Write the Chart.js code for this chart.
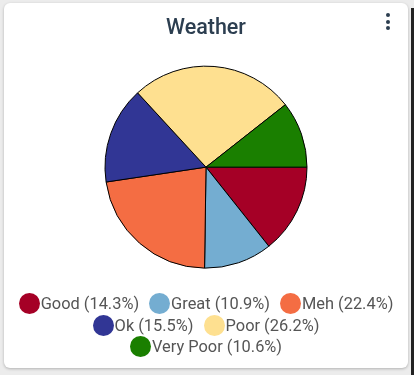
<!DOCTYPE html>
<html>
<head>
<meta charset="utf-8">
<script src="https://cdn.jsdelivr.net/npm/chart.js@4"></script>
<style>
  html, body { margin: 0; padding: 0; }
  body { width: 414px; height: 375px; background: #ececec; position: relative; overflow: hidden; font-family: Roboto, sans-serif; }
  .edge { position: absolute; left: 411px; top: 8px; width: 3px; height: 367px; background: #222; }
  .card { position: absolute; left: 4px; top: 3px; width: 404px; height: 365px; background: #fff; border-radius: 6px; box-shadow: 0 1px 3px rgba(0,0,0,0.25); }
  .menu { position: absolute; left: 382px; top: 10px; width: 4px; }
  .menu span { display: block; width: 4px; height: 4px; border-radius: 2px; background: #2c3e50; margin-bottom: 2.5px; }
  canvas { position: absolute; left: 0; top: 0; }
  #legend { position: absolute; left: 10px; top: 290px; width: 384px; display: flex; flex-wrap: wrap; justify-content: center; column-gap: 10px; }
  #legend .item { display: flex; align-items: center; height: 21.6px; font-size: 16.4px; color: #555; white-space: nowrap; }
  #legend .dot { width: 21px; height: 21px; border-radius: 50%; margin-right: 1px; }
</style>
</head>
<body>
<div class="edge"></div>
<div class="card">
  <canvas id="weatherChart" width="404" height="365"></canvas>
  <div class="menu"><span></span><span></span><span></span></div>
  <div id="legend"></div>
</div>
<script>
const categories = ['Good', 'Great', 'Meh', 'Ok', 'Poor', 'Very Poor'];
const shares = [14.3, 10.9, 22.4, 15.5, 26.2, 10.6];
const sliceColors = ['#a50026', '#74add1', '#f46d43', '#313695', '#fee090', '#1a7f00'];

const ctx = document.getElementById('weatherChart').getContext('2d');
const chart = new Chart(ctx, {
    type: 'pie',
    data: {
        labels: categories,
        datasets: [{
            data: shares,
            backgroundColor: sliceColors,
            borderColor: '#000',
            borderWidth: 1
        }]
    },
    options: {
        responsive: false,
        animation: false,
        rotation: 90,
        radius: 101,
        layout: { padding: { bottom: 75 } },
        plugins: {
            title: {
                display: true,
                text: 'Weather',
                color: '#2c3e50',
                font: { family: 'Roboto', size: 21.5, weight: '500' },
                padding: { top: 12.5, bottom: 0 }
            },
            tooltip: { enabled: false },
            legend: { display: false }
        }
    }
});

// html legend below the pie
const legendBox = document.getElementById('legend');
chart.data.labels.forEach((name, i) => {
    const item = document.createElement('div');
    item.className = 'item';
    item.innerHTML = '<span class="dot" style="background:' + sliceColors[i] + '"></span>' +
        name + ' (' + shares[i] + '%)';
    legendBox.appendChild(item);
});
</script>
</body>
</html>
